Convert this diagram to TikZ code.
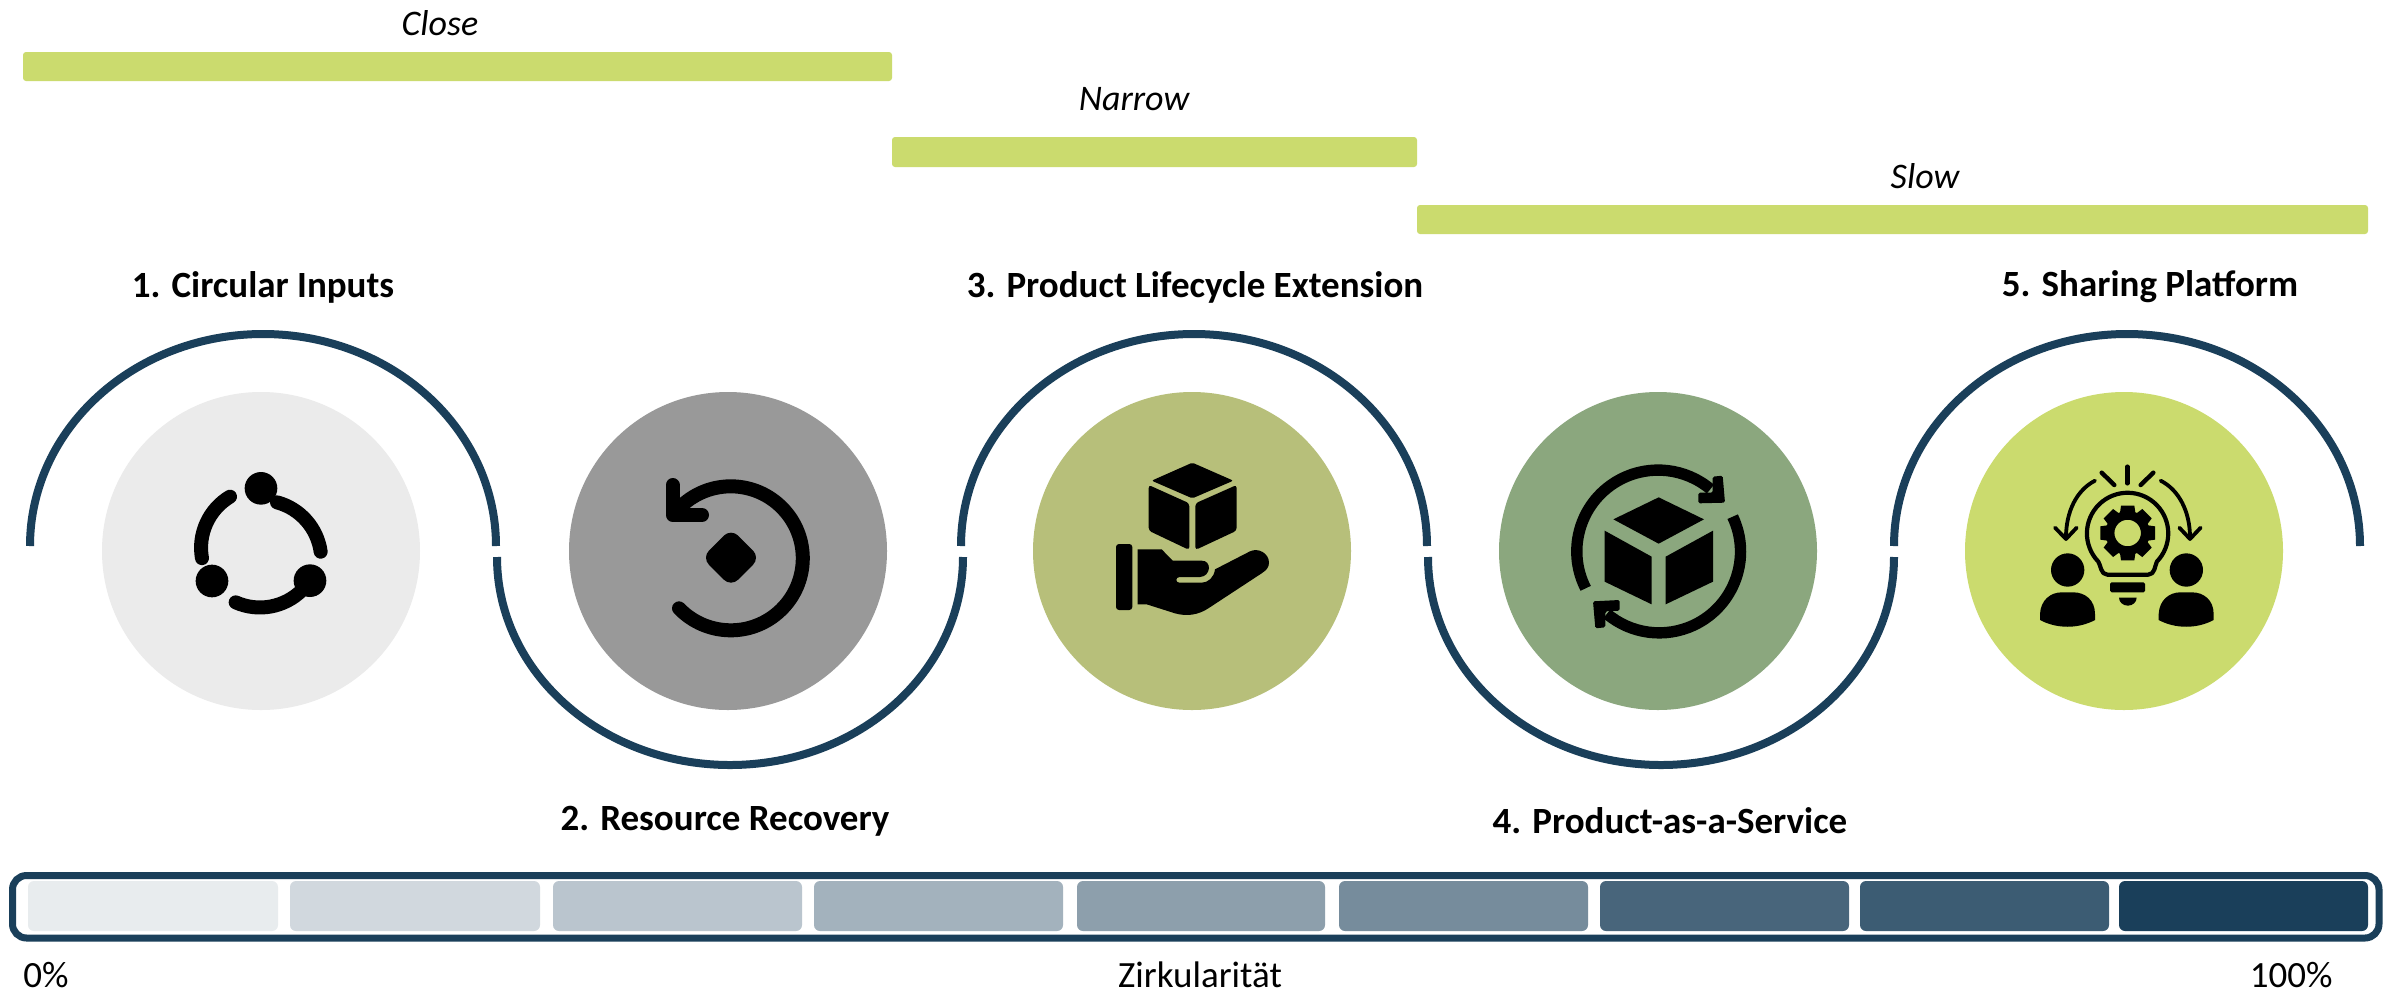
\documentclass[tikz,border=0pt]{standalone}
\usepackage{fontspec}
\setmainfont{Carlito}
\definecolor{navy}{HTML}{1A3F5A}
\definecolor{lime}{HTML}{CBDB6E}
\tikzset{
  lvl/.style={font=\fontsize{18.5}{22}\selectfont\bfseries,inner sep=0pt},
  lever/.style={font=\fontsize{18}{22}\selectfont\itshape,inner sep=0pt},
  scaletxt/.style={font=\fontsize{18.5}{22}\selectfont,inner sep=0pt},
  wave/.style={draw=navy,line width=4pt,line cap=butt},
  stroke/.style={draw=black,line cap=round,line join=round},
}
\newcommand{\seg}[3]{\fill[#3,rounded corners=3pt] (#1,881) rectangle (#2,931);}
\begin{document}
\begin{tikzpicture}[x=1pt,y=1pt,yscale=-1,scale=.5]
\useasboundingbox (0,0) rectangle (2394,992);
\fill[white] (0,0) rectangle (2394,992);
% lever bars
\fill[lime,rounded corners=1.5pt] (23,52) rectangle (892,81);
\fill[lime,rounded corners=1.5pt] (892,137) rectangle (1417,167);
\fill[lime,rounded corners=1.5pt] (1417,205) rectangle (2368,234);
\node[lever] (close) at (440,23) {Close};
\node[lever] (narrow) at (1134,99) {Narrow};
\node[lever] (slow) at (1925,176) {Slow};
% circles
\fill[color={rgb,255:red,235;green,235;blue,235}] (261,551) circle[radius=159pt];
\fill[color={rgb,255:red,153;green,153;blue,153}] (728,551) circle[radius=159pt];
\fill[color={rgb,255:red,183;green,191;blue,122}] (1192,551) circle[radius=159pt];
\fill[color={rgb,255:red,139;green,167;blue,126}] (1658,551) circle[radius=159pt];
\fill[lime] (2124,551) circle[radius=159pt];
% wave
\draw[wave] (30,546) arc[start angle=180,end angle=360,x radius=233pt,y radius=212pt];
\draw[wave] (497,557) arc[start angle=180,end angle=0,x radius=233pt,y radius=208pt];
\draw[wave] (961,546) arc[start angle=180,end angle=360,x radius=233pt,y radius=212pt];
\draw[wave] (1428,557) arc[start angle=180,end angle=0,x radius=233pt,y radius=208pt];
\draw[wave] (1894,546) arc[start angle=180,end angle=360,x radius=233pt,y radius=212pt];
% labels
\node[lvl] (l1) at (263,287) {1. Circular Inputs};
\node[lvl] (l2) at (725,821) {2. Resource Recovery};
\node[lvl] (l3) at (1195,287) {3. Product Lifecycle Extension};
\node[lvl] (l4) at (1670,821) {4. Product-as-a-Service};
\node[lvl] (l5) at (2150,287) {5. Sharing Platform};
% icon 1
\begin{scope}[shift={(150,430)},scale=1/3]
\draw[stroke,line width=7pt] (512,365) arc[start angle=-8,end angle=-75,radius=179pt];
\draw[stroke,line width=7pt] (240,200) arc[start angle=-121,end angle=-190,radius=179pt];
\draw[stroke,line width=7pt] (257,517) arc[start angle=114,end angle=45,radius=179pt];
\fill (333,175) circle[radius=49pt];
\fill (186,453) circle[radius=49pt];
\fill (480,452) circle[radius=49pt];
\end{scope}
% icon 2
\begin{scope}[shift={(630,440)},scale=1/3]
\draw[stroke,line width=7pt] (147,505) arc[start angle=136,end angle=-133,radius=216pt];
\draw[stroke,line width=7pt] (128,135) -- (128,225) -- (216,225);
\fill[stroke,line width=10pt] (303,308) -- (348,353) -- (303,398) -- (258,353) -- cycle;
\end{scope}
% icon 3
\begin{scope}[shift={(1090,440)},scale=1/3]
\fill[rounded corners=1pt] (307,68) -- (430,122) -- (307,175) -- (185,122) -- cycle;
\fill[rounded corners=1.5pt] (176,135) -- (298,190) -- (298,330) -- (176,272) -- cycle;
\fill[rounded corners=1.5pt] (316,190) -- (440,135) -- (440,272) -- (316,330) -- cycle;
\fill[rounded corners=1.5pt] (78,312) rectangle (127,510);
\fill (143,328) -- (215,328) -- (248,362) -- (335,362)
  .. controls (350,362) and (357,372) .. (357,385)
  .. controls (355,400) and (345,410) .. (330,411)
  -- (268,411) .. controls (256,412) and (256,428) .. (268,428)
  -- (335,428) .. controls (355,428) and (372,412) .. (375,388)
  -- (480,334) .. controls (505,322) and (537,340) .. (537,368)
  .. controls (537,382) and (530,390) .. (515,400)
  -- (355,505) .. controls (325,525) and (290,530) .. (255,520)
  -- (170,493) -- (143,493) -- cycle;
\end{scope}
% icon 4
\begin{scope}[shift={(1550,440)},scale=1/3]
\draw[line width=5.7pt] (107,445) arc[start angle=153,end angle=310,radius=244pt];
\draw[line width=5.7pt] (548,230) arc[start angle=-25.4,end angle=130,radius=244pt];
\fill[rounded corners=.8pt] (488,110) -- (518,107) -- (525,188) -- (445,190) -- (445,158) -- (488,158) -- cycle;
\fill[rounded corners=.8pt] (166,562) -- (136,565) -- (129,484) -- (209,480) -- (209,512) -- (166,514) -- cycle;
\fill (326,172) -- (462,238) -- (326,311) -- (190,238) -- cycle;
\fill (164,272) -- (305,350) -- (305,493) -- (164,425) -- cycle;
\fill (489,272) -- (347,350) -- (347,493) -- (489,425) -- cycle;
\end{scope}
% icon 5
\begin{scope}[shift={(2020,440)},scale=1/3]
\draw[stroke,line width=2.2pt] (322,80) -- (322,130);
\draw[stroke,line width=2.2pt] (245,98) -- (283,135);
\draw[stroke,line width=2.2pt] (400,98) -- (362,135);
\draw[stroke,line width=1.9pt] (225,122) .. controls (170,150) and (138,215) .. (138,292);
\draw[stroke,line width=1.9pt] (105,263) -- (138,297) -- (170,263);
\draw[stroke,line width=1.9pt] (422,122) .. controls (477,150) and (510,215) .. (510,292);
\draw[stroke,line width=1.9pt] (478,263) -- (510,297) -- (542,263);
\draw[stroke,line width=2.1pt] (235,365) arc[start angle=136,end angle=404,radius=122pt]
  .. controls (405,375) and (405,404) .. (385,404) -- (262,404) .. controls (242,404) and (242,375) .. cycle;
\fill[rounded corners=.8pt] (270,427) rectangle (375,457);
\fill (297,473) -- (350,473) arc[start angle=0,end angle=180,x radius=26.5pt,y radius=24pt] -- cycle;
% gear
\draw[line width=4.4pt] (323,279) circle[radius=53pt];
\foreach \a in {0,45,...,315}{
  \fill[rotate around={\a:(323,279)}] (303,197) -- (343,197) -- (347,225) -- (299,225) -- cycle;
}
% people
\fill (143,390) circle[radius=50pt];
\fill (499,390) circle[radius=50pt];
\foreach \dx in {0,356}{
  \fill[xshift=\dx pt] (60,540) -- (60,522) .. controls (62,480) and (92,457) .. (125,457)
   -- (160,457) .. controls (195,457) and (225,480) .. (225,522) -- (225,540)
   .. controls (175,567) and (110,567) .. (60,540) -- cycle;
}
\end{scope}
% scale
\draw[navy,line width=3.5pt,rounded corners=7pt] (12.5,875.5) rectangle (2379,938);
\seg{28}{278}{navy!10}
\seg{290}{540}{navy!20}
\seg{553}{802}{navy!30}
\seg{814}{1063}{navy!40}
\seg{1077}{1325}{navy!50}
\seg{1339}{1588}{navy!60}
\seg{1600}{1849}{navy!80}
\seg{1860}{2109}{navy!85}
\seg{2119}{2368}{navy}
\node[scaletxt,anchor=base west] (p0) at (23,987) {0\%};
\node[scaletxt,anchor=base] (z) at (1200,987) {Zirkularität};
\node[scaletxt,anchor=base east] (p100) at (2333,987) {100\%};
\end{tikzpicture}
\end{document}
